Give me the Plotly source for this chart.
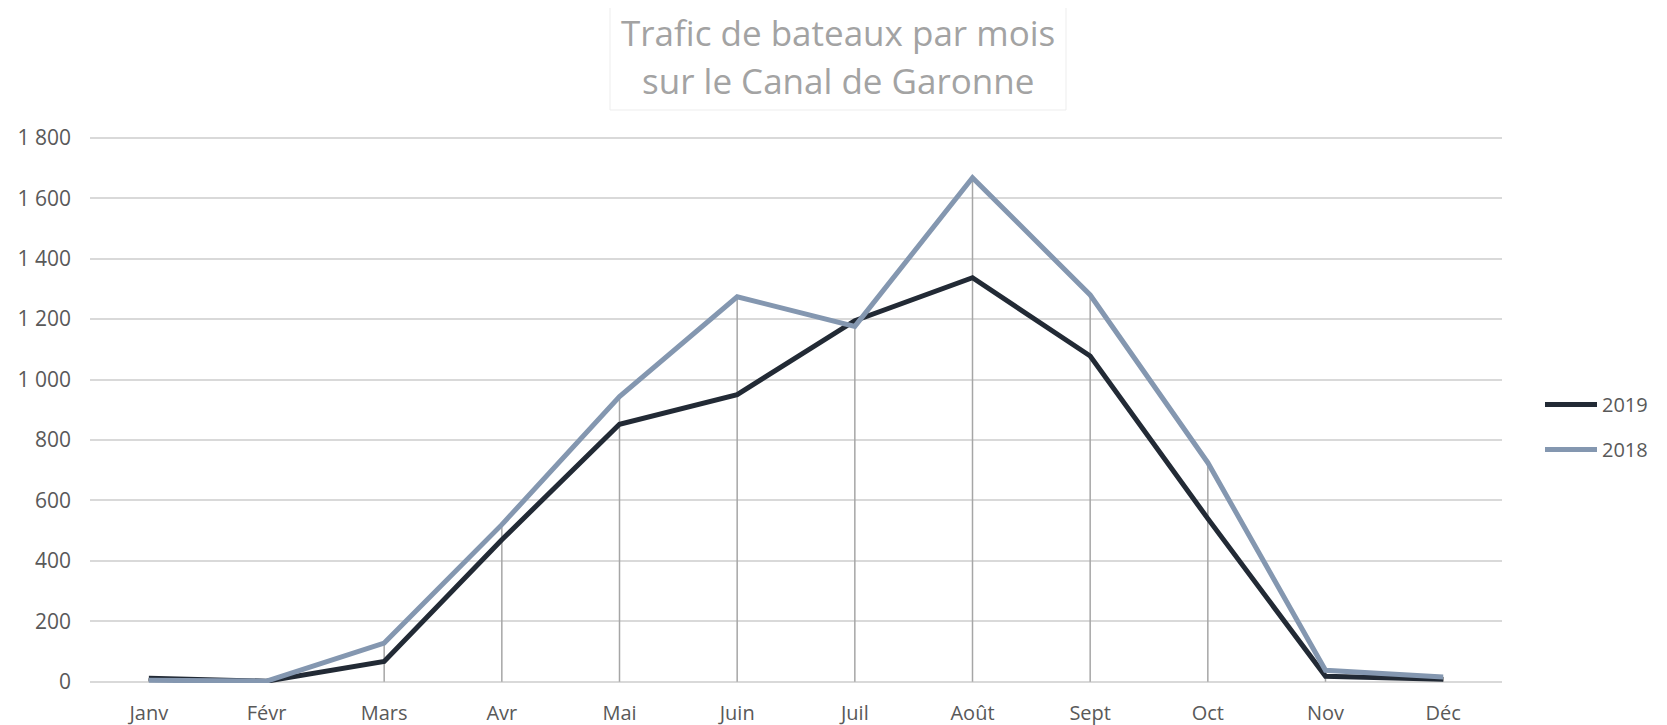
import plotly.graph_objects as go

months = ["Janv", "Févr", "Mars", "Avr", "Mai", "Juin", "Juil", "Août", "Sept", "Oct", "Nov", "Déc"]
trafic_2019 = [12, 2, 67, 470, 852, 950, 1195, 1337, 1078, 540, 18, 8]
trafic_2018 = [5, 2, 128, 520, 944, 1274, 1176, 1668, 1280, 725, 38, 16]
y_ticks = [0, 200, 400, 600, 800, 1000, 1200, 1400, 1600, 1800]
title_lines = ["Trafic de bateaux par mois", "sur le Canal de Garonne"]

# page body margin offset (the figure is placed 8px from the window corner)
OFF = 8
W, H = 1667 - OFF, 725 - OFF
# plot area in window pixels
PX0, PX1, PY0, PY1 = 90, 1502, 136, 683
L, R, T, B = PX0 - OFF, 1667 - PX1, PY0 - OFF, 725 - PY1
pw, ph = PX1 - PX0, PY1 - PY0

def px_x(x):
    return (x - PX0) / pw

def px_y(y):
    return (PY1 - y) / ph

FONT = "Open Sans"

# drop lines from axis to the highest point of each month
drop_x, drop_y = [], []
for m, a, b in zip(months, trafic_2019, trafic_2018):
    drop_x += [m, m, None]
    drop_y += [0, max(a, b), None]

fig = go.Figure()
fig.add_trace(go.Scatter(x=drop_x, y=drop_y, mode="lines",
                         line=dict(color="#A6A6A6", width=1.5),
                         showlegend=False, hoverinfo="skip"))
fig.add_trace(go.Scatter(x=months, y=trafic_2019, name="2019", mode="lines",
                         line=dict(color="#222A35", width=5),
                         legendgroup="a"))
fig.add_trace(go.Scatter(x=months, y=trafic_2018, name="2018", mode="lines",
                         line=dict(color="#8497B0", width=5),
                         legendgroup="b"))

fig.update_layout(
    width=W, height=H,
    margin=dict(l=L, r=R, t=T, b=B, autoexpand=False),
    paper_bgcolor="white", plot_bgcolor="white",
    separators=", ",
    font=dict(family=FONT, size=20, color="#595959"),
    showlegend=True,
    legend=dict(x=px_x(1540), y=px_y(427), xanchor="left", yanchor="middle",
                traceorder="grouped", tracegroupgap=16, itemwidth=52,
                font=dict(family=FONT, size=20, color="#595959"),
                bgcolor="rgba(0,0,0,0)"),
    xaxis=dict(type="category", range=[-0.5, 11.5], showgrid=False,
               showline=False, zeroline=False, ticks="", automargin=False,
               tickfont=dict(family=FONT, size=20, color="#595959"),
               ticklabelstandoff=16),
    yaxis=dict(range=[-4, 1806], tickvals=y_ticks, tickformat=",d",
               showgrid=True, gridcolor="#D9D9D9", gridwidth=1.5,
               zeroline=False, showline=False, ticks="", automargin=False,
               tickfont=dict(family=FONT, size=21, color="#595959"),
               ticklabelstandoff=18),
)

# title box
fig.add_shape(type="rect", xref="paper", yref="paper",
              x0=px_x(610), x1=px_x(1066), y0=px_y(110), y1=px_y(OFF - 2),
              line=dict(color="#EDEDED", width=1), fillcolor="rgba(0,0,0,0)")
for txt, yc in zip(title_lines, [32, 80]):
    fig.add_annotation(text=txt, xref="paper", yref="paper",
                       x=px_x(838), y=px_y(yc), xanchor="center", yanchor="middle",
                       showarrow=False,
                       font=dict(family=FONT, size=35, color="#A3A3A3"))

fig.write_html("out.html")
